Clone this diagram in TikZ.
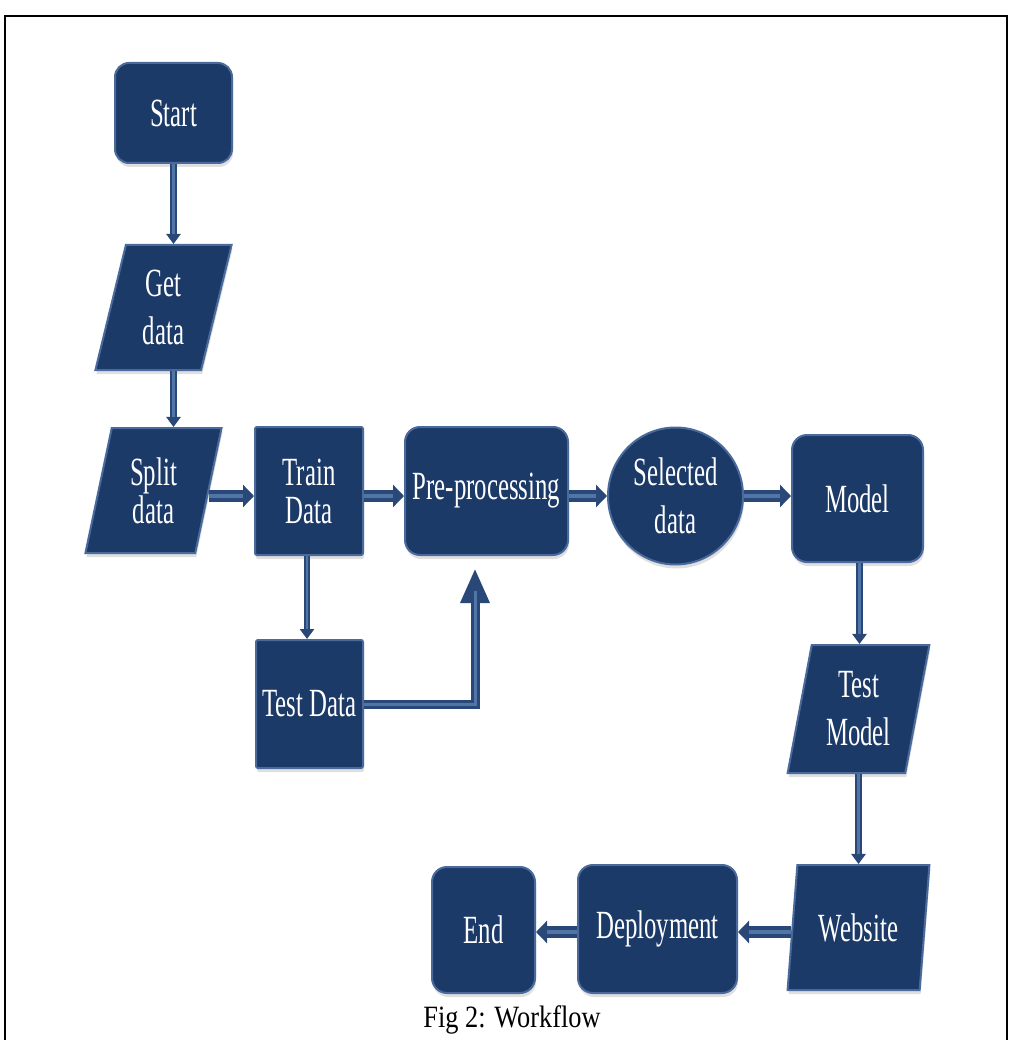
\documentclass[tikz,border=0pt]{standalone}
\usepackage{fontspec}
\setmainfont{Liberation Serif}
\newfontfamily\lblfont[FakeStretch=0.62]{Liberation Serif}
\newfontfamily\capfont[FakeStretch=0.85]{Liberation Serif}
\usetikzlibrary{shapes.geometric,arrows.meta,shadows}
\definecolor{navy}{HTML}{1C3A68}
\definecolor{edgeblue}{HTML}{4A6A9C}
\definecolor{arrowdark}{HTML}{2A4877}
\definecolor{arrowlight}{HTML}{5275A8}
\begin{document}
\begin{tikzpicture}[x=1pt,y=-1pt,
  box/.style={draw=edgeblue, line width=2pt, fill=navy, text=white,
    font=\lblfont\fontsize{40}{38}\selectfont, align=center, inner sep=0pt,
    drop shadow={shadow xshift=1pt, shadow yshift=-4pt, opacity=0.25, fill=black!50}},
  rbox/.style={box, rectangle, rounded corners=15pt},
  sbox/.style={box, rectangle, rounded corners=2pt},
  pbox/.style={box, trapezium, trapezium left angle=77.4, trapezium right angle=102.6,
    trapezium stretches=true},
  wide/.style={font=\lblfont\fontsize{40}{48}\selectfont},
  fat/.style={draw=arrowdark, line width=12pt, -{Triangle[length=11pt,width=22pt]},
    postaction={draw=arrowlight, line width=4pt, -, shorten >=11pt}},
  thinarrow/.style={draw=arrowdark, line width=6.5pt, -{Triangle[length=10pt,width=14pt]},
    postaction={draw=arrowlight, line width=2.5pt, -, shorten >=10pt}},
  elbow/.style={draw=arrowdark, line width=9pt, -{Triangle[length=35pt,width=27pt]},
    postaction={draw=arrowlight, line width=3pt, -, shorten >=35pt}},
  frame/.style={draw=black, line width=2pt}
]
\useasboundingbox (0,0) rectangle (1010,1040);
\fill[white] (0,0) rectangle (1010,1040);
\draw[frame] (5,1040) -- (5,16) -- (1007,16) -- (1007,1040);

\node[rbox, rounded corners=14pt, minimum width=117pt, minimum height=100pt] (start) at (173.5,113) {Start};
\node[pbox, wide, minimum width=137pt, minimum height=125pt] (get) at (163.5,307.5) {Get\\data};
\node[pbox, minimum width=137pt, minimum height=125pt] (split) at (153.5,490.5) {Split\\data};
\node[sbox, minimum width=108pt, minimum height=128pt] (train) at (309,491) {Train\\Data};
\node[rbox, minimum width=163pt, minimum height=128pt] (pre) at (486.5,491) {Pre-processing};
\node[box, wide, ellipse, minimum width=135pt, minimum height=137pt] (sel) at (675.5,496) {Selected\\data};
\node[rbox, minimum width=131pt, minimum height=127pt] (model) at (857.5,498.5) {Model};
\node[pbox, wide, minimum width=143pt, minimum height=128pt] (tmodel) at (858.5,709) {Test\\Model};
\node[pbox, minimum width=143pt, minimum height=125pt] (web) at (858.5,927.5) {Website};
\node[rbox, minimum width=159pt, minimum height=128pt] (dep) at (657.5,929) {Deployment};
\node[rbox, minimum width=103pt, minimum height=126pt] (end) at (483.5,930) {End};
\node[sbox, minimum width=107pt, minimum height=128pt] (test) at (309.5,704) {Test Data};

\node[font=\capfont\fontsize{31}{31}\selectfont] (cap) at (512,1020) {Fig 2: Workflow};

\coordinate (hy) at (0,496);
\coordinate (by) at (0,932);

\draw[thinarrow] (start.south) -- (start.south |- get.north);
\draw[thinarrow] ([xshift=10pt]get.south) -- ([xshift=10pt]get.south |- split.north);
\draw[thinarrow] ([xshift=-2pt]train.south) -- ([xshift=-2pt]train.south |- test.north);
\draw[thinarrow] ([xshift=2pt]model.south) -- ([xshift=2pt]model.south |- tmodel.north);
\draw[thinarrow] (tmodel.center |- tmodel.south) -- (tmodel.center |- web.north);

\draw[fat] (split.east |- hy) -- (train.west |- hy);
\draw[fat] (train.east |- hy) -- (pre.west |- hy);
\draw[fat] (pre.east |- hy) -- (sel.west |- hy);
\draw[fat] (sel.east |- hy) -- (model.west |- hy);
\draw[fat] (web.west |- by) -- (dep.east |- by);
\draw[fat] (dep.west |- by) -- (end.east |- by);

\draw[elbow, shorten >=12pt] (test.east) -| ([xshift=-11.5pt]pre.south);
\end{tikzpicture}
\end{document}
